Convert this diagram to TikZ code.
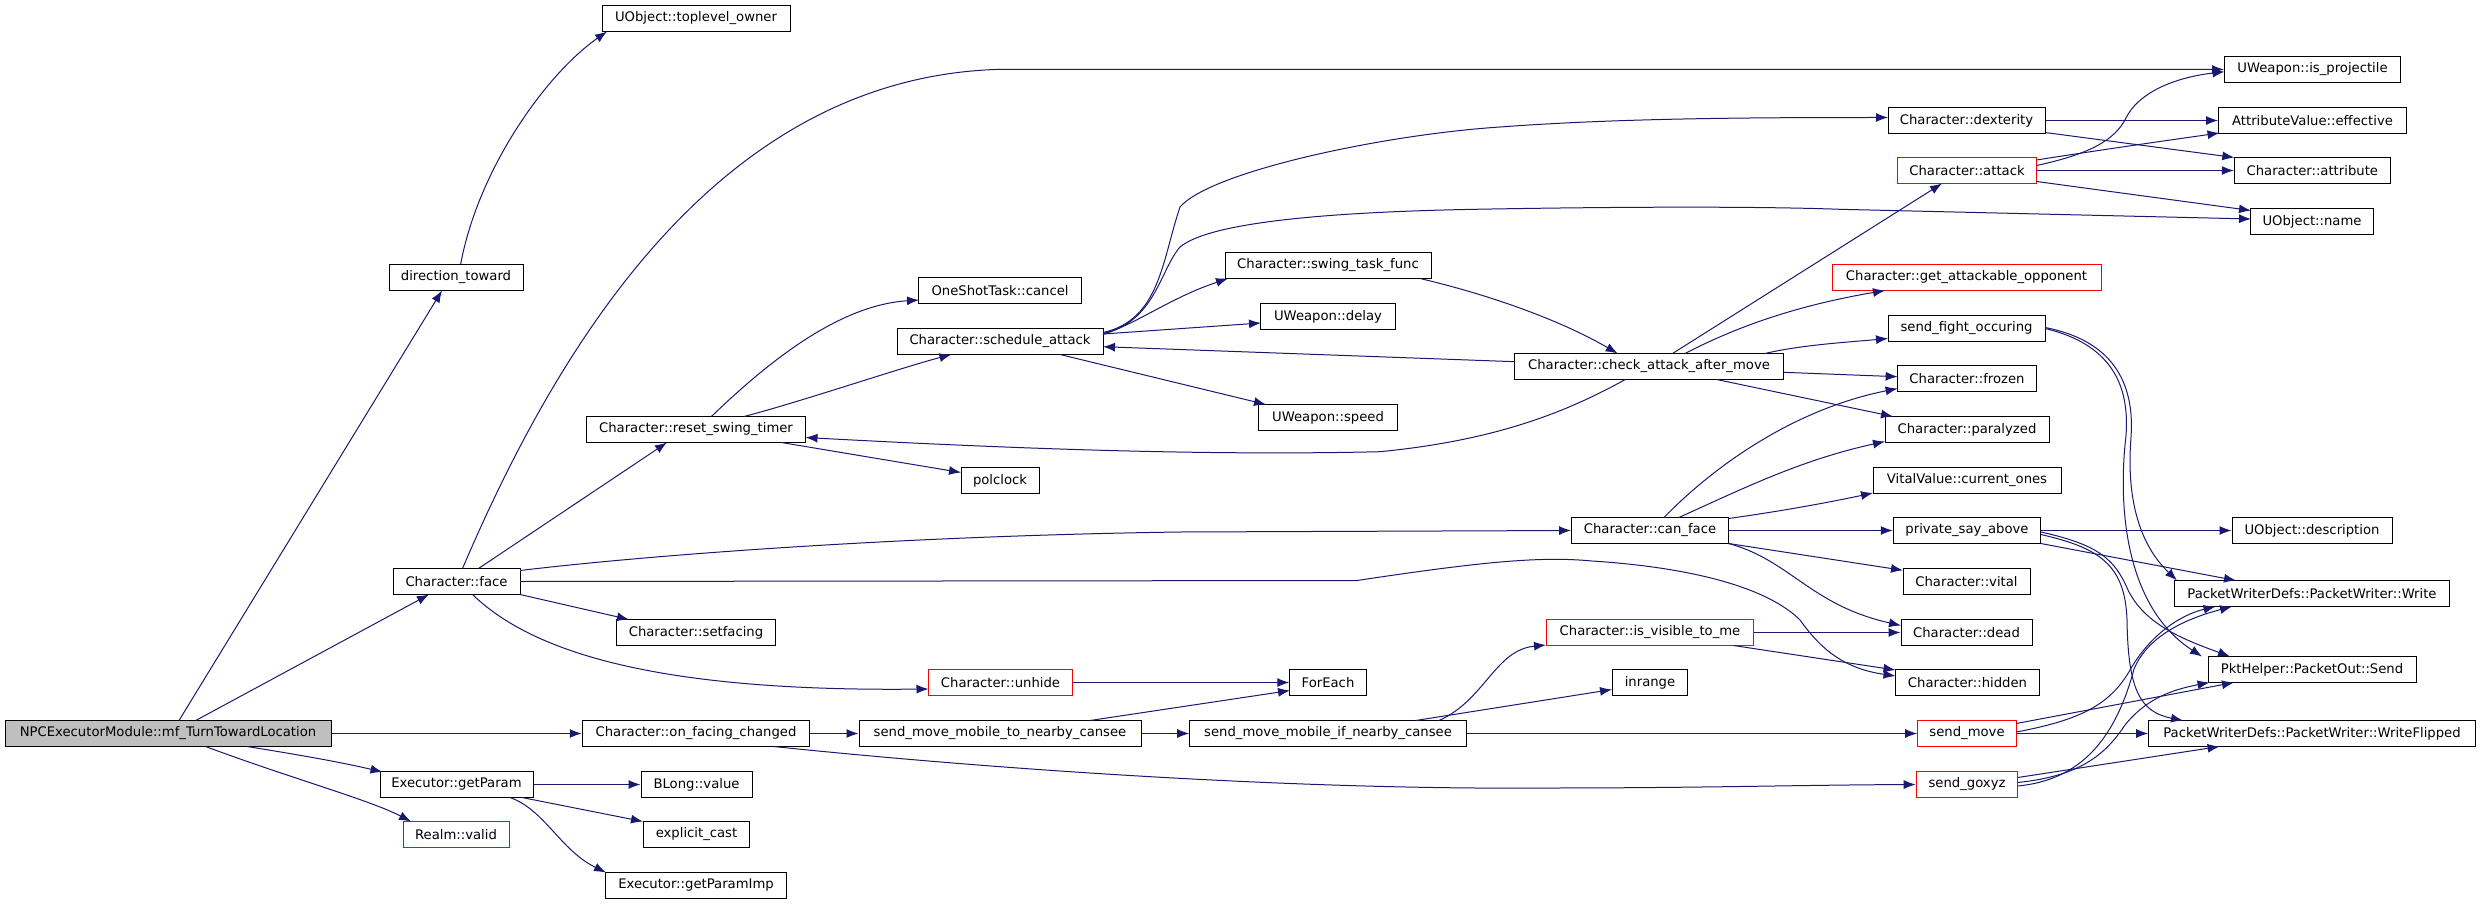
\documentclass[tikz,border=0pt]{standalone}
\usepackage{fontspec}
\setmainfont{DejaVu Sans}
\usetikzlibrary{arrows.meta}
\definecolor{edgeblue}{RGB}{25,25,112}
\definecolor{rootgray}{RGB}{191,191,191}
\begin{document}
\begin{tikzpicture}[x=1pt,y=-1pt,
  box/.style={draw=black, fill=white, line width=1pt, minimum height=26pt, inner sep=0pt, anchor=center, font=\fontsize{13.2}{16}\selectfont},
  rbox/.style={box, draw=red},
  root/.style={box, fill=rootgray},
  e/.style={draw=edgeblue, line width=1pt, -{Latex[length=12pt,width=9pt]}}]
\useasboundingbox[fill=white] (0,0) rectangle (2480,904);
% nodes
\node[root, minimum width=326pt] (npc) at (168,733.5) {NPCExecutorModule::mf\_TurnTowardLocation};
\node[box, minimum width=134pt] (dirtoward) at (456,277.5) {direction\_toward};
\node[box, minimum width=188pt] (toplevel) at (696,18.5) {UObject::toplevel\_owner};
\node[box, minimum width=127pt] (face) at (456.5,581.5) {Character::face};
\node[box, minimum width=153pt] (getparam) at (456.5,784.5) {Executor::getParam};
\node[rbox, minimum width=106pt] (realmvalid) at (456,834.5) {Realm::valid};
\node[box, minimum width=162.5pt] (cancel) at (1000,290.5) {OneShotTask::cancel};
\node[box, minimum width=206pt] (schedule) at (1000,341.5) {Character::schedule\_attack};
\node[box, minimum width=218.5pt] (resetswing) at (696,429.5) {Character::reset\_swing\_timer};
\node[box, minimum width=78pt] (polclock) at (1000,480.5) {polclock};
\node[box, minimum width=158.5pt] (setfacing) at (696,632.5) {Character::setfacing};
\node[rbox, minimum width=144pt] (unhide) at (1000.5,682.5) {Character::unhide};
\node[box, minimum width=227.5pt] (onfacing) at (696,733.5) {Character::on\_facing\_changed};
\node[box, minimum width=282pt] (sendmobto) at (1000,733.5) {send\_move\_mobile\_to\_nearby\_cansee};
\node[box, minimum width=111pt] (blong) at (696.5,784.5) {BLong::value};
\node[box, minimum width=106.5pt] (explicitcast) at (696.5,834.5) {explicit\_cast};
\node[box, minimum width=180.5pt] (getparamimp) at (696,885.5) {Executor::getParamImp};
\node[box, minimum width=206pt] (swingtask) at (1328,265.5) {Character::swing\_task\_func};
\node[box, minimum width=134.5pt] (delay) at (1328,316.5) {UWeapon::delay};
\node[box, minimum width=268.6pt] (check) at (1649,366.5) {Character::check\_attack\_after\_move};
\node[box, minimum width=138.6pt] (speed) at (1328,417.5) {UWeapon::speed};
\node[box, minimum width=157pt] (canface) at (1650,530.5) {Character::can\_face};
\node[rbox, minimum width=206.7pt] (isvisible) at (1650,632.5) {Character::is\_visible\_to\_me};
\node[box, minimum width=76.5pt] (foreach) at (1328,682.5) {ForEach};
\node[box, minimum width=75.6pt] (inrange) at (1650,682.5) {inrange};
\node[box, minimum width=276.6pt] (sendmobif) at (1328,733.5) {send\_move\_mobile\_if\_nearby\_cansee};
\node[box, minimum width=176pt] (isprojectile) at (2312.5,69.5) {UWeapon::is\_projectile};
\node[box, minimum width=157pt] (dexterity) at (1966.5,120.5) {Character::dexterity};
\node[box, minimum width=188pt] (effective) at (2312.5,120.5) {AttributeValue::effective};
\node[rbox, minimum width=139pt] (attack) at (1967,170.5) {Character::attack};
\node[box, minimum width=156pt] (attribute) at (2312.3,170.5) {Character::attribute};
\node[box, minimum width=122.5pt] (name) at (2312,221.5) {UObject::name};
\node[rbox, minimum width=269pt] (getattackable) at (1966.5,277.5) {Character::get\_attackable\_opponent};
\node[box, minimum width=157pt] (sendfight) at (1966.5,328.5) {send\_fight\_occuring};
\node[box, minimum width=139pt] (frozen) at (1967,378.5) {Character::frozen};
\node[box, minimum width=164pt] (paralyzed) at (1967,429.5) {Character::paralyzed};
\node[box, minimum width=188pt] (currentones) at (1967,480.5) {VitalValue::current\_ones};
\node[box, minimum width=147.5pt] (privatesay) at (1967,530.5) {private\_say\_above};
\node[box, minimum width=160pt] (description) at (2312,530.5) {UObject::description};
\node[box, minimum width=127pt] (vital) at (1966.5,581.5) {Character::vital};
\node[box, minimum width=274.5pt] (write) at (2312,593.5) {PacketWriterDefs::PacketWriter::Write};
\node[box, minimum width=131pt] (dead) at (1966.5,632.5) {Character::dead};
\node[box, minimum width=208pt] (send) at (2312,669.5) {PktHelper::PacketOut::Send};
\node[box, minimum width=144pt] (hidden) at (1967.5,682.5) {Character::hidden};
\node[rbox, minimum width=98.7pt] (sendmove) at (1967,733.5) {send\_move};
\node[box, minimum width=326.6pt] (writeflipped) at (2312,733.5) {PacketWriterDefs::PacketWriter::WriteFlipped};
\node[rbox, minimum width=101.6pt] (sendgoxyz) at (1967,784.5) {send\_goxyz};
% edges
\draw[e] ([shift={(11,-13)}]npc.center) -- ([shift={(-14,13)}]dirtoward.center);
\draw[e] ([shift={(4.6,-13)}]dirtoward.center) .. controls (478,170) and (545,75) .. ([shift={(-89,13)}]toplevel.center);
\draw[e] ([shift={(27.7,-13)}]npc.center) -- ([shift={(-27.5,13)}]face.center);
\draw[e] (npc.east) -- (onfacing.west);
\draw[e] ([shift={(79,13)}]npc.center) .. controls (300,755) and (340,762) .. ([shift={(-74,-12.5)}]getparam.center);
\draw[e] ([shift={(37.6,13)}]npc.center) .. controls (290,778) and (370,800) .. ([shift={(-45,-13)}]realmvalid.center);
\draw[e] ([shift={(6,-13)}]face.center) .. controls (560,340) and (720,80) .. (995,69.5) -- (isprojectile.west);
\draw[e] ([shift={(22,-13)}]face.center) -- ([shift={(-29,13)}]resetswing.center);
\draw[e] ([shift={(63.5,-11)}]face.center) .. controls (650,555) and (900,536) .. (1180,532) -- (canface.west);
\draw[e] ([shift={(63.5,13)}]face.center) -- ([shift={(-67,-13)}]setfacing.center);
\draw[e] ([shift={(16,13)}]face.center) .. controls (530,650) and (650,692) .. ([shift={(-72,6.5)}]unhide.center);
\draw[e] ([shift={(63.5,0)}]face.center) -- (1357,580.5) .. controls (1480,562) and (1540,556) .. (1592,561) .. controls (1700,568) and (1770,590) .. (1800,620) .. controls (1818,645) and (1840,668) .. ([shift={(-72,-6.5)}]hidden.center);
\draw[e] ([shift={(15.4,-13)}]resetswing.center) .. controls (770,360) and (840,305) .. ([shift={(-81,9.5)}]cancel.center);
\draw[e] ([shift={(48,-13)}]resetswing.center) .. controls (800,402) and (900,368) .. ([shift={(-48.6,13)}]schedule.center);
\draw[e] ([shift={(85.4,13)}]resetswing.center) -- ([shift={(-39,-8)}]polclock.center);
\draw[e] ([shift={(103,-9)}]schedule.center) .. controls (1160,320) and (1162,260) .. (1180,207) .. controls (1210,172) and (1380,135) .. (1500,127) .. controls (1620,118) and (1760,117.5) .. ([shift={(-78.5,-3)}]dexterity.center);
\draw[e] ([shift={(103,-8)}]schedule.center) .. controls (1155,322) and (1160,270) .. (1180,247) .. controls (1210,222) and (1330,212) .. (1475,209.3) .. controls (1600,207) and (1750,206) .. (1840,209.3) -- ([shift={(-61,-2.5)}]name.center);
\draw[e] ([shift={(103,-7)}]schedule.center) .. controls (1140,322) and (1170,298) .. ([shift={(-100,13)}]swingtask.center);
\draw[e] ([shift={(103,-7.5)}]schedule.center) -- ([shift={(-67,6.5)}]delay.center);
\draw[e] ([shift={(-134,-4.8)}]check.center) -- ([shift={(103,5.2)}]schedule.center);
\draw[e] ([shift={(60,13)}]schedule.center) -- ([shift={(-62,-13)}]speed.center);
\draw[e] ([shift={(92,13)}]swingtask.center) .. controls (1490,295) and (1560,320) .. ([shift={(-31.3,-13)}]check.center);
\draw[e] ([shift={(-23.7,13)}]check.center) .. controls (1570,410) and (1500,440) .. (1380,451.7) .. controls (1200,456) and (1000,448) .. ([shift={(109.5,8)}]resetswing.center);
\draw[e] ([shift={(23.5,-13)}]check.center) -- ([shift={(-25,13)}]attack.center);
\draw[e] ([shift={(36,-13)}]check.center) .. controls (1740,325) and (1800,305) .. ([shift={(-81.5,13)}]getattackable.center);
\draw[e] ([shift={(116,-13)}]check.center) .. controls (1800,345) and (1850,342) .. ([shift={(-78.5,10)}]sendfight.center);
\draw[e] ([shift={(134.3,5.8)}]check.center) -- ([shift={(-69.4,-1.8)}]frozen.center);
\draw[e] ([shift={(67.6,13)}]check.center) -- ([shift={(-74,-13)}]paralyzed.center);
\draw[e] ([shift={(14,-13)}]canface.center) .. controls (1710,470) and (1790,410) .. ([shift={(-69.4,10)}]frozen.center);
\draw[e] ([shift={(28.8,-13)}]canface.center) .. controls (1740,490) and (1800,460) .. ([shift={(-82,12)}]paralyzed.center);
\draw[e] ([shift={(78.5,-12)}]canface.center) .. controls (1790,510) and (1840,500) .. ([shift={(-94,12.5)}]currentones.center);
\draw[e] (canface.east) -- (privatesay.west);
\draw[e] ([shift={(78.5,13)}]canface.center) -- ([shift={(-63.5,-11.2)}]vital.center);
\draw[e] ([shift={(78.5,13)}]canface.center) .. controls (1790,560) and (1810,605) .. ([shift={(-65.5,-7)}]dead.center);
\draw[e] (isvisible.east) -- (dead.west);
\draw[e] ([shift={(83.5,13)}]isvisible.center) -- ([shift={(-72,-12.5)}]hidden.center);
\draw[e] (privatesay.east) -- (description.west);
\draw[e] ([shift={(73.8,13)}]privatesay.center) -- ([shift={(-76,-13)}]write.center);
\draw[e] ([shift={(73.8,1.5)}]privatesay.center) .. controls (2100,545) and (2115,560) .. (2128,590) .. controls (2145,625) and (2185,640) .. ([shift={(-82,-13)}]send.center);
\draw[e] ([shift={(73.8,4)}]privatesay.center) .. controls (2100,548) and (2125,565) .. (2127,620) .. controls (2128,690) and (2140,712) .. ([shift={(-129,-13)}]writeflipped.center);
\draw[e] ([shift={(78.5,-1)}]sendfight.center) .. controls (2110,340) and (2135,380) .. (2131,437) .. controls (2126,500) and (2140,545) .. ([shift={(-135,-13)}]write.center);
\draw[e] ([shift={(78.5,0)}]sendfight.center) .. controls (2115,345) and (2132,390) .. (2125,445) .. controls (2118,520) and (2130,610) .. ([shift={(-110,-13)}]send.center);
\draw[e] ([shift={(49.3,-10)}]sendmove.center) -- ([shift={(-78,13)}]send.center);
\draw[e] ([shift={(49.3,-1.5)}]sendmove.center) .. controls (2080,720) and (2110,705) .. (2130,670) .. controls (2150,635) and (2180,615) .. ([shift={(-96.5,13)}]write.center);
\draw[e] (sendmove.east) -- (writeflipped.west);
\draw[e] ([shift={(50.8,-7)}]sendgoxyz.center) -- ([shift={(-92.4,13)}]writeflipped.center);
\draw[e] ([shift={(50.8,-2)}]sendgoxyz.center) .. controls (2080,776) and (2105,755) .. (2125,725) .. controls (2145,700) and (2170,690) .. ([shift={(-102.5,13)}]send.center);
\draw[e] ([shift={(50.8,1.5)}]sendgoxyz.center) .. controls (2080,780) and (2115,740) .. (2134,669) .. controls (2150,630) and (2200,615) .. ([shift={(-80,13)}]write.center);
\draw[e] (onfacing.east) -- (sendmobto.west);
\draw[e] ([shift={(77.5,13)}]onfacing.center) .. controls (1000,770) and (1300,790) .. (1546,788) .. controls (1700,788) and (1800,785) .. (sendgoxyz.west);
\draw[e] (sendmobto.east) -- (sendmobif.west);
\draw[e] ([shift={(90,-13)}]sendmobto.center) -- ([shift={(-38,8)}]foreach.center);
\draw[e] (unhide.east) -- (foreach.west);
\draw[e] ([shift={(111,-13)}]sendmobif.center) .. controls (1485,700) and (1495,650) .. ([shift={(-104,12.5)}]isvisible.center);
\draw[e] ([shift={(87.7,-13)}]sendmobif.center) -- ([shift={(-38,7)}]inrange.center);
\draw[e] (sendmobif.east) -- (sendmove.west);
\draw[e] (getparam.east) -- (blong.west);
\draw[e] ([shift={(65.5,13)}]getparam.center) -- ([shift={(-53.5,-13)}]explicitcast.center);
\draw[e] ([shift={(53.5,13)}]getparam.center) .. controls (545,810) and (560,850) .. ([shift={(-90,-13)}]getparamimp.center);
\draw[e] (dexterity.east) -- (effective.west);
\draw[e] ([shift={(78.5,12)}]dexterity.center) -- ([shift={(-78,-13)}]attribute.center);
\draw[e] ([shift={(69.5,-5)}]attack.center) .. controls (2090,154) and (2115,140) .. (2126,118) .. controls (2137,95) and (2170,78) .. ([shift={(-88,2.2)}]isprojectile.center);
\draw[e] ([shift={(69.5,-10.5)}]attack.center) .. controls (2100,150) and (2170,140) .. ([shift={(-93,12.5)}]effective.center);
\draw[e] (attack.east) -- (attribute.west);
\draw[e] ([shift={(69.5,11)}]attack.center) -- ([shift={(-61,-11)}]name.center);
\end{tikzpicture}
\end{document}
